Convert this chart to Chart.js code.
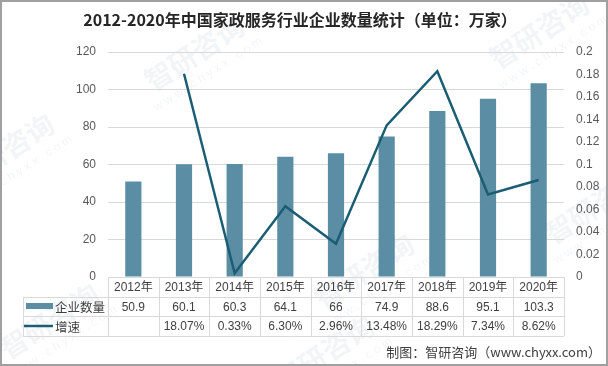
<!DOCTYPE html>
<html>
<head>
<meta charset="utf-8">
<script src="https://cdn.jsdelivr.net/npm/chart.js@4"></script>
<style>
  html, body { margin: 0; padding: 0; background: #fff; }
  #wrap { width: 608px; height: 366px; }
</style>
</head>
<body>
<div id="wrap"><canvas id="chart" width="608" height="366"></canvas></div>
<script>
// data
const years = ['2012年', '2013年', '2014年', '2015年', '2016年', '2017年', '2018年', '2019年', '2020年'];
const companies = [50.9, 60.1, 60.3, 64.1, 66, 74.9, 88.6, 95.1, 103.3];
const growth = [null, 0.1807, 0.0033, 0.0630, 0.0296, 0.1348, 0.1829, 0.0734, 0.0862];
const companyLabel = '企业数量';
const growthLabel = '增速';
const titleText = '2012-2020年中国家政服务行业企业数量统计（单位：万家）';
const sourceText = '制图：智研咨询（www.chyxx.com）';

const barColor = '#5B8DA5';
const lineColor = '#1B5E74';
const gridColor = '#D9D9D9';
const textColor = '#404040';
const font = "'Liberation Sans', 'Noto Sans CJK SC', sans-serif";
const cjkFont = "'Noto Sans CJK SC', sans-serif";

const fmtPct = v => v == null ? '' : (v * 100).toFixed(2) + '%';

// title, watermark, data table, source, frame
const decor = {
  id: 'decor',
  beforeDraw(chart) {
    const c = chart.ctx;
    c.save();
    c.fillStyle = '#fff';
    c.fillRect(0, 0, chart.width, chart.height);
    // faint watermarks
    const marks = [[200, 62], [10, 160], [545, 40], [600, 215], [55, 330], [370, 280], [330, 362]];
    c.fillStyle = 'rgba(110,140,170,0.09)';
    marks.forEach(([x, y]) => {
      c.save();
      c.translate(x, y);
      c.rotate(-Math.PI / 5.5);
      c.font = "bold 28px " + cjkFont;
      c.textAlign = 'center';
      c.fillText('智研咨询', 0, 0);
      c.font = "12px " + font;
      c.fillText('w w w . c h y x x . c o m', 0, 18);
      c.restore();
    });
    c.restore();
  },
  afterDraw(chart) {
    const c = chart.ctx;
    const x = chart.scales.x;
    const area = chart.chartArea;
    const half = (x.getPixelForValue(1) - x.getPixelForValue(0)) / 2;
    const left = 23, right = area.right;
    const rows = [area.bottom, 297, 316, 336];
    c.save();
    // title
    c.fillStyle = '#262626';
    c.font = "bold 16px " + cjkFont;
    c.textAlign = 'center';
    c.textBaseline = 'middle';
    c.fillText(titleText, 300, 20);

    // table grid
    c.strokeStyle = gridColor;
    c.lineWidth = 1;
    c.beginPath();
    c.moveTo(area.left, rows[0] + 0.5); c.lineTo(right, rows[0] + 0.5);
    for (let r = 1; r < rows.length; r++) {
      c.moveTo(left, rows[r] + 0.5); c.lineTo(right, rows[r] + 0.5);
    }
    c.moveTo(left + 0.5, rows[1]); c.lineTo(left + 0.5, rows[3]);
    for (let i = 0; i < years.length; i++) {
      const bx = Math.round(x.getPixelForValue(i) - half) + 0.5;
      c.moveTo(bx, rows[0]); c.lineTo(bx, rows[3]);
    }
    c.moveTo(Math.round(right) + 0.5, rows[0]); c.lineTo(Math.round(right) + 0.5, rows[3]);
    c.stroke();

    // cells
    c.fillStyle = textColor;
    c.font = "12px " + font;
    c.textAlign = 'center';
    years.forEach((y, i) => {
      const cx = x.getPixelForValue(i);
      c.fillText(y, cx, (rows[0] + rows[1]) / 2 + 1);
      c.fillText(String(companies[i]), cx, (rows[1] + rows[2]) / 2 + 1);
      c.fillText(fmtPct(growth[i]), cx, (rows[2] + rows[3]) / 2 + 1);
    });

    // row headers with legend keys
    c.fillStyle = barColor;
    c.fillRect(26, 303, 27, 6);
    c.strokeStyle = lineColor;
    c.lineWidth = 2.5;
    c.beginPath();
    c.moveTo(24, 326); c.lineTo(53, 326);
    c.stroke();
    c.fillStyle = textColor;
    c.font = "12.5px " + cjkFont;
    c.textAlign = 'left';
    c.fillText(companyLabel, 55, (rows[1] + rows[2]) / 2 + 1);
    c.fillText(growthLabel, 55, (rows[2] + rows[3]) / 2 + 1);

    // source
    c.font = "13px " + cjkFont;
    c.textAlign = 'right';
    c.fillText(sourceText, 601, 352);

    // frame
    c.strokeStyle = '#A0A0A0';
    c.lineWidth = 2;
    c.strokeRect(1, 1, chart.width - 2, chart.height - 2);
    c.restore();
  }
};

new Chart(document.getElementById('chart'), {
  data: {
    labels: years,
    datasets: [
      {
        type: 'line',
        label: growthLabel,
        data: growth,
        yAxisID: 'y1',
        borderColor: lineColor,
        borderWidth: 2.5,
        pointRadius: 0,
        tension: 0,
        spanGaps: false,
        order: 0
      },
      {
        type: 'bar',
        label: companyLabel,
        data: companies,
        yAxisID: 'y',
        backgroundColor: barColor,
        categoryPercentage: 1,
        barPercentage: 0.32,
        order: 1
      }
    ]
  },
  options: {
    responsive: false,
    animation: false,
    layout: { padding: { top: 52, bottom: 89, left: 0, right: 0 } },
    plugins: {
      legend: { display: false },
      title: { display: false },
      tooltip: { enabled: false }
    },
    scales: {
      x: { display: false },
      y: {
        position: 'left',
        min: 0, max: 120,
        ticks: { stepSize: 20, padding: 12, color: '#595959', font: { size: 12, family: font } },
        grid: { color: gridColor, drawTicks: false },
        border: { display: false },
        afterFit(s) { s.width = 108; }
      },
      y1: {
        position: 'right',
        min: 0, max: 0.2,
        ticks: {
          stepSize: 0.02, padding: 12, color: '#595959', font: { size: 12, family: font },
          callback: v => String(+v.toFixed(2))
        },
        grid: { drawOnChartArea: false, drawTicks: false },
        border: { display: false },
        afterFit(s) { s.width = 44; }
      }
    }
  },
  plugins: [decor]
});
</script>
</body>
</html>
